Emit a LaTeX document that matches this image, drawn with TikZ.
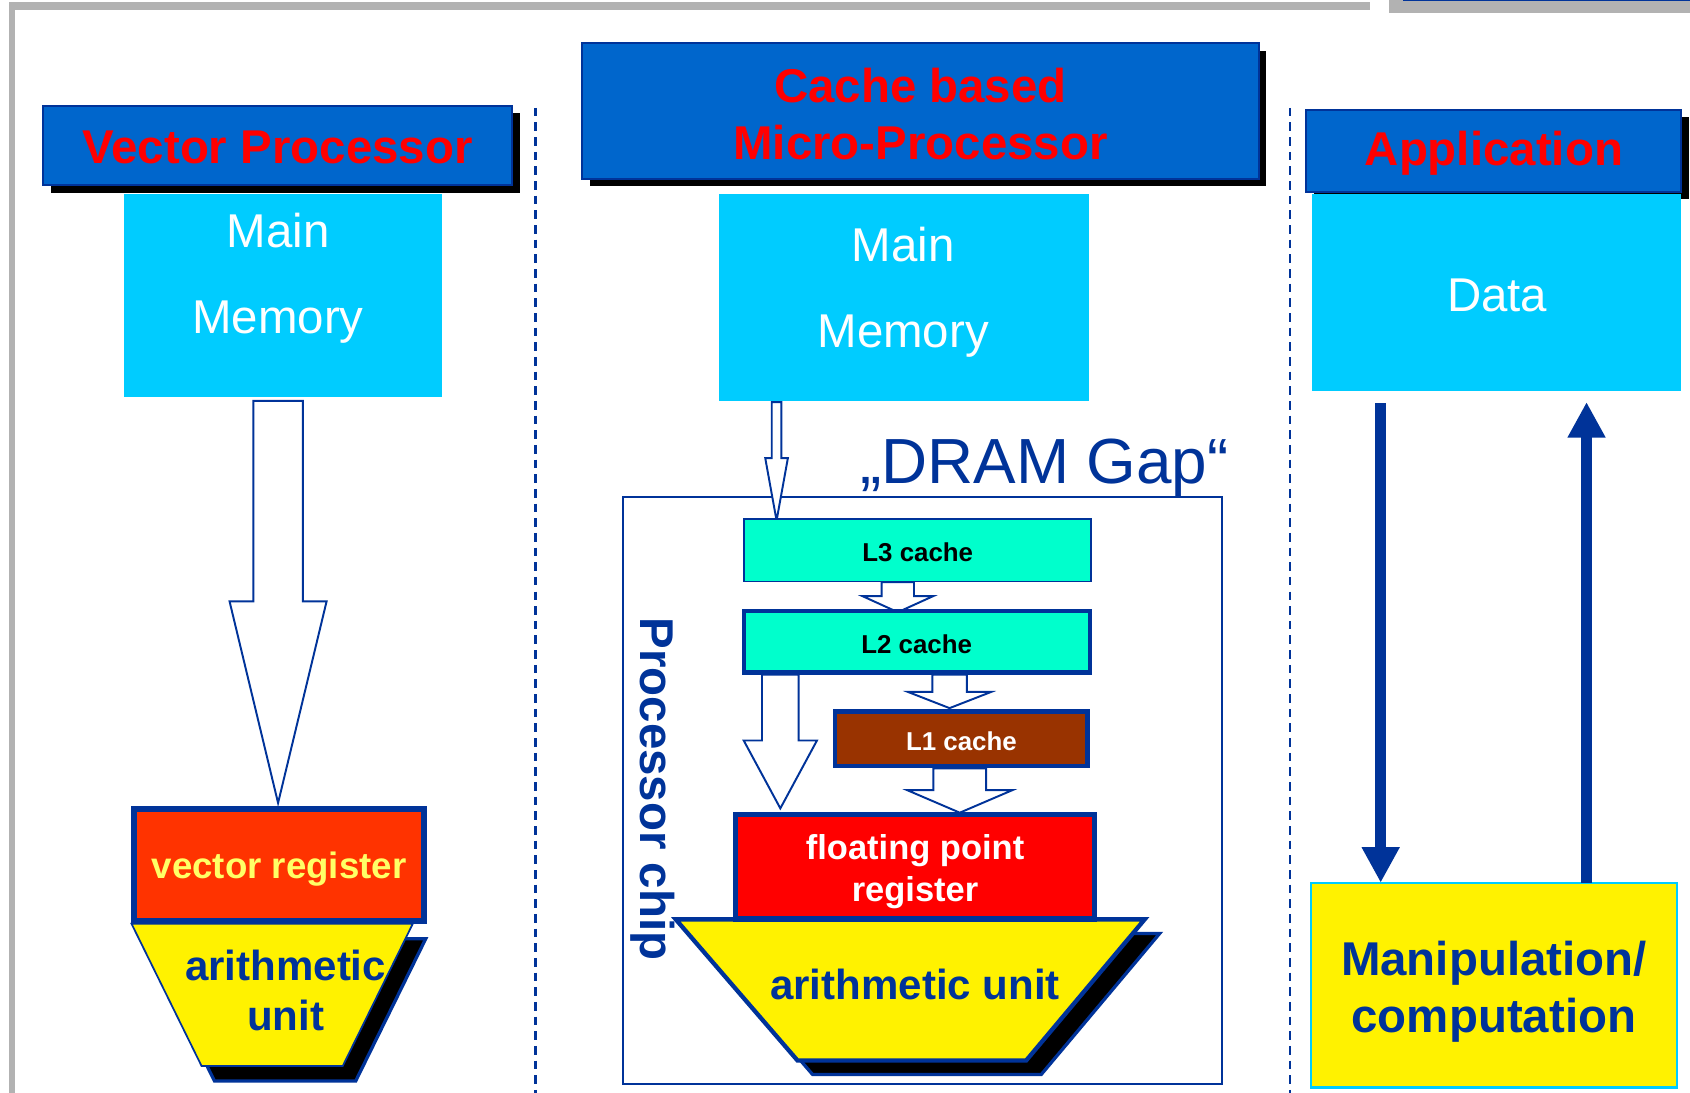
\documentclass[tikz,border=0pt]{standalone}
\usepackage{fontspec}
\setmainfont{Liberation Sans}
\usetikzlibrary{arrows.meta}
\definecolor{hdrblue}{HTML}{0066CC}
\definecolor{dkblue}{HTML}{003399}
\definecolor{memcyan}{HTML}{00CCFF}
\definecolor{cachegreen}{HTML}{00FFCC}
\definecolor{lonebrown}{HTML}{993300}
\definecolor{vregred}{HTML}{FF3300}
\definecolor{paleyellow}{HTML}{FFFF66}
\definecolor{framegray}{HTML}{B2B2B2}
% #1 centre x, #2 top y, #3 half shaft width, #4 head base y, #5 half head width, #6 tip y
\newcommand{\blockarrow}[6]{%
  \draw[hollow] (#1-#3,#2) -- (#1-#3,#4) -- (#1-#5,#4) -- (#1,#6) -- (#1+#5,#4) -- (#1+#3,#4) -- (#1+#3,#2) -- cycle;}
\begin{document}
\begin{tikzpicture}[x=0.5pt,y=-0.5pt,
  every node/.style={inner sep=0pt, outer sep=0pt},
  header/.style={fill=hdrblue, draw=dkblue, line width=0.9pt},
  hdrtext/.style={text=red, font=\bfseries\fontsize{22}{26.5}\selectfont, align=center},
  hdrshadow/.style={fill=black},
  membox/.style={fill=memcyan},
  memtext/.style={text=white, font=\fontsize{22}{40}\selectfont, align=center},
  cachebox/.style={draw=dkblue},
  cachetext/.style={text=black, font=\bfseries\fontsize{12}{14}\selectfont},
  hollow/.style={draw=dkblue, fill=white, line width=0.9pt, line join=miter},
  bigarrow/.style={draw=dkblue, line width=5pt, -{Triangle[width=16.5pt,length=16.5pt]}},
  divider/.style={draw=dkblue, line width=1.1pt, dash pattern=on 4pt off 2.8pt},
  alushadow/.style={fill=black, draw=dkblue, line width=1.5pt, line join=miter},
  alubody/.style={fill=yellow, draw=dkblue, line join=miter},
  alutext/.style={text=dkblue, font=\bfseries\fontsize{19.5}{23}\selectfont, align=center},
]
\useasboundingbox (0,0) rectangle (1568,1014);
\fill[white] (0,0) rectangle (1568,1014);

% frame
\fill[framegray] (8,2) rectangle (1271,9);
\fill[framegray] (8,2) rectangle (14,1014);
\fill[framegray] (1289,0) rectangle (1568,12);
\draw[dkblue, line width=0.5pt] (1302,0.5) -- (1568,0.5);

% dividers
\draw[divider] (497,100) -- (497,1014);
\draw[divider] (1197,100) -- (1197,1014);

% ---------------- left column
\node[hdrshadow, minimum width=217.5pt, minimum height=37pt] (vpsh) at (264.5,142) {};
\node[header, minimum width=217.5pt, minimum height=37pt] (vp) at (257.5,135) {};
\node[hdrtext] (vptext) at (257.5,137) {Vector Processor};
\node[membox, minimum width=147.5pt, minimum height=94pt] (mmA) at (262.5,274) {};
\node[memtext] (mmAtext) at (258,258) {Main\\Memory};
\blockarrow{258}{372}{23}{558}{45}{745}
\draw[alushadow] (134,871) -- (395,871) -- (330,1003) -- (199,1003) -- cycle;
\draw[alubody, line width=0.8pt] (122,857) -- (383,857) -- (318,989) -- (187,989) -- cycle;
\node[fill=vregred, draw=dkblue, line width=2.5pt, minimum width=134.5pt, minimum height=52pt] (vreg) at (259,802.5) {};
\node[text=paleyellow, font=\bfseries\fontsize{17}{20}\selectfont] (vregtext) at (259,806.5) {vector register};
\node[alutext] (aluAtext) at (265,919) {arithmetic\\unit};

% ---------------- middle column
\node[hdrshadow, minimum width=314pt, minimum height=63pt] (cpsh) at (861,110) {};
\node[header, minimum width=314pt, minimum height=63pt] (cp) at (854,103) {};
\node[hdrtext] (cptext) at (854,106) {Cache based\\Micro-Processor};
\node[membox, minimum width=171.5pt, minimum height=96pt] (mmB) at (838.5,276) {};
\node[memtext] (mmBtext) at (838,271) {Main\\Memory};
\node[draw=dkblue, line width=1pt, minimum width=278pt, minimum height=272.5pt] (chip) at (856,733.5) {};
\node[text=dkblue, font=\fontsize{29.6}{34}\selectfont, anchor=base west] (gap) at (798,449) {„DRAM Gap“};
\blockarrow{720.5}{373}{4.5}{425}{10.5}{483}
\node[rotate=-90, text=dkblue, font=\bfseries\fontsize{22}{26}\selectfont] (chiplabel) at (606,732) {Processor chip};
\node[cachebox, fill=cachegreen, line width=0.75pt, minimum width=161pt, minimum height=29pt] (L3) at (851.5,510.5) {};
\node[cachetext] (L3text) at (851.5,512.5) {L3 cache};
\blockarrow{833}{540}{15}{553}{33}{568}
\node[cachebox, fill=cachegreen, line width=2pt, minimum width=160.5pt, minimum height=28.5pt] (L2) at (850.5,595.5) {};
\node[cachetext] (L2text) at (850.5,597.5) {L2 cache};
\blockarrow{724}{626}{17}{687}{34}{750}
\blockarrow{881}{626}{16}{642}{38.5}{657}
\node[cachebox, fill=lonebrown, line width=2pt, minimum width=117pt, minimum height=25.5pt] (L1) at (892,685.5) {};
\node[cachetext, text=white] (L1text) at (892,687.5) {L1 cache};
\blockarrow{890.5}{713}{24.5}{733}{49}{754}
\draw[alushadow] (641,866) -- (1076,866) -- (966,997) -- (754,997) -- cycle;
\draw[alubody, line width=2pt] (627,853) -- (1062,853) -- (952,984) -- (740,984) -- cycle;
\node[fill=red, draw=dkblue, line width=2.5pt, minimum width=166.5pt, minimum height=48.5pt] (fp) at (849,804) {};
\node[text=white, font=\bfseries\fontsize{16}{19.5}\selectfont, align=center] (fptext) at (849,808.5) {floating point\\register};
\node[alutext] (aluBtext) at (849,913) {arithmetic unit};

% ---------------- right column
\node[hdrshadow, minimum width=174pt, minimum height=38pt] (apsh) at (1393,147) {};
\node[header, minimum width=174pt, minimum height=38pt] (ap) at (1386,140) {};
\node[hdrtext] (aptext) at (1386,142) {Application};
\node[membox, minimum width=171.5pt, minimum height=91.5pt] (data) at (1388.5,271.5) {};
\node[text=white, font=\fontsize{22}{26}\selectfont] (datatext) at (1389,274) {Data};
\node[fill=yellow, draw=memcyan, line width=1pt, minimum width=170pt, minimum height=95pt] (manip) at (1386,914) {};
\node[text=dkblue, font=\bfseries\fontsize{22}{26.5}\selectfont, align=center] (maniptext) at (1386,920) {Manipulation/\\computation};
\coordinate (xdn) at (1281,0);
\coordinate (xup) at (1472,0);
\draw[bigarrow, shorten <=5.5pt] (data.south -| xdn) -- (manip.north -| xdn);
\draw[bigarrow, shorten >=5pt] (manip.north -| xup) -- (data.south -| xup);
\end{tikzpicture}
\end{document}
